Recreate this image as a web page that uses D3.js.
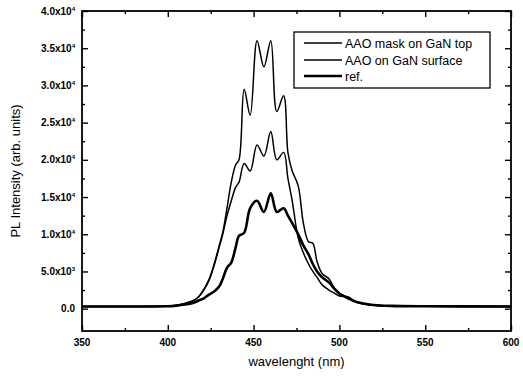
<!DOCTYPE html>
<html>
<head>
<meta charset="utf-8">
<script src="https://cdn.jsdelivr.net/npm/d3@7"></script>
<style>
  body { margin: 0; background: #fff; }
  svg { display: block; font-family: "Liberation Sans", Arial, sans-serif; }
</style>
</head>
<body>
<figure id="chart" style="margin:0"></figure>
<script>
// wavelength grid (nm) shared by the three spectra
const wavelength = [350, 380, 400, 405, 410, 415, 418, 421, 424, 427, 430, 432, 434.5, 437, 439.5, 441.5,
  444.5, 448, 452, 456, 460, 463.5, 467.5, 470, 472.5, 476, 479, 482, 484.5, 487, 490, 494, 497, 500,
  505, 510, 515, 520, 530, 550, 600];

const maskTop = [300, 300, 350, 450, 700, 1100, 1600, 2600, 3900, 6000, 8500, 10200, 13500, 17000, 19300, 20000,
  29500, 26000, 36000, 32500, 36000, 26500, 28600, 21000, 18500, 16500, 11500, 9000, 8800, 6300, 4700, 4000, 2800, 2100,
  1500, 900, 600, 450, 350, 320, 300];

const onSurface = [300, 300, 350, 450, 700, 1100, 1600, 2500, 3800, 5800, 8300, 10000, 12500, 14500, 16300, 17000,
  19500, 18500, 22000, 20500, 23800, 20000, 21000, 17500, 14500, 9500, 7500, 6000, 5000, 4200, 3200, 2500, 2100, 1700,
  1600, 900, 600, 450, 350, 320, 300];

const ref = [300, 300, 320, 400, 550, 800, 1100, 1400, 1900, 2300, 3000, 4000, 5500, 6200, 8200, 9800,
  10200, 13500, 14500, 13000, 15500, 13000, 13500, 12500, 11500, 10000, 8500, 7300, 6000, 5000, 4200, 3500, 2700, 2000,
  1400, 900, 650, 500, 380, 320, 300];

const seriesNames = ['AAO mask on GaN top', 'AAO on GaN surface', 'ref.'];
const xTicks = [350, 400, 450, 500, 550, 600];
const yTicks = [0, 5000, 10000, 15000, 20000, 25000, 30000, 35000, 40000];

const width = 523, height = 377;
const margin = { left: 82, right: 12, top: 11, bottom: 46 };

const svg = d3.select('figure#chart')
  .append('svg')
  .attr('width', width)
  .attr('height', height);

const x = d3.scaleLinear().domain([350, 600]).range([margin.left, width - margin.right]);
const y = d3.scaleLinear().domain([-3000, 40000]).range([height - margin.bottom, margin.top]);

const x0 = x.range()[0], x1 = x.range()[1], y0 = y.range()[0], y1 = y.range()[1];

// minor + major ticks, all pointing inward
function ticks(axis, values, size) {
  return axis.tickValues(values).tickSize(size).tickFormat('');
}
const xMinor = d3.range(375, 600, 50);
const yMinor = d3.range(2500, 40000, 5000);

svg.append('g').attr('transform', `translate(0,${y0})`).call(ticks(d3.axisBottom(x), xTicks, -6));
svg.append('g').attr('transform', `translate(0,${y0})`).call(ticks(d3.axisBottom(x), xMinor, -3));
svg.append('g').attr('transform', `translate(0,${y1})`).call(ticks(d3.axisTop(x), xTicks, -6));
svg.append('g').attr('transform', `translate(0,${y1})`).call(ticks(d3.axisTop(x), xMinor, -3));
svg.append('g').attr('transform', `translate(${x0},0)`).call(ticks(d3.axisLeft(y), yTicks, -6));
svg.append('g').attr('transform', `translate(${x0},0)`).call(ticks(d3.axisLeft(y), yMinor, -3));
svg.append('g').attr('transform', `translate(${x1},0)`).call(ticks(d3.axisRight(y), yTicks, -6));
svg.append('g').attr('transform', `translate(${x1},0)`).call(ticks(d3.axisRight(y), yMinor, -3));
svg.selectAll('.domain').remove();
svg.selectAll('.tick line').attr('stroke', '#000').attr('stroke-width', 1.4);

// frame
svg.append('rect')
  .attr('x', x0).attr('y', y1)
  .attr('width', x1 - x0).attr('height', y0 - y1)
  .attr('fill', 'none').attr('stroke', '#000').attr('stroke-width', 1.8);

// x tick labels
svg.append('g').selectAll('text')
  .data(xTicks).enter().append('text')
  .attr('x', d => x(d)).attr('y', y0 + 15)
  .attr('text-anchor', 'middle')
  .attr('font-size', 10).attr('font-weight', 'bold')
  .text(d => d);

// y tick labels like 3.5x10^4
const yLab = svg.append('g').selectAll('text')
  .data(yTicks).enter().append('text')
  .attr('x', x0 - 7).attr('y', d => y(d) + 3.5)
  .attr('text-anchor', 'end')
  .attr('font-size', 10).attr('font-weight', 'bold');
yLab.each(function (d) {
  const t = d3.select(this);
  if (d === 0) { t.text('0.0'); return; }
  const e = Math.floor(Math.log10(d));
  const m = (d / Math.pow(10, e)).toFixed(1);
  t.append('tspan').text(m + 'x10');
  t.append('tspan').attr('dy', -4).attr('font-size', 6).text(e);
});

// axis titles
svg.append('text')
  .attr('x', (x0 + x1) / 2).attr('y', 366)
  .attr('text-anchor', 'middle').attr('font-size', 13)
  .text('wavelenght (nm)');
svg.append('text')
  .attr('transform', `translate(20,${(y0 + y1) / 2}) rotate(-90)`)
  .attr('text-anchor', 'middle').attr('font-size', 13)
  .text('PL Intensity (arb. units)');

// spectra
const series = [maskTop, onSurface, ref];
const widths = [1.5, 1.5, 2.6];
const line = d3.line()
  .x((d, i) => x(wavelength[i]))
  .y(d => y(d))
  .curve(d3.curveCatmullRom.alpha(0.5));

svg.append('g').selectAll('path')
  .data(series).enter().append('path')
  .attr('d', d => line(d))
  .attr('fill', 'none')
  .attr('stroke', '#000')
  .attr('stroke-width', (d, i) => widths[i])
  .attr('stroke-linejoin', 'round');

// legend
const lg = svg.append('g');
lg.append('rect')
  .attr('x', 294).attr('y', 32).attr('width', 196).attr('height', 56)
  .attr('fill', '#fff').attr('stroke', '#000').attr('stroke-width', 1.3);
const rows = [43, 60, 76];
seriesNames.forEach((name, i) => {
  lg.append('line')
    .attr('x1', 304).attr('x2', 342).attr('y1', rows[i]).attr('y2', rows[i])
    .attr('stroke', '#000').attr('stroke-width', widths[i]);
  lg.append('text')
    .attr('x', 345).attr('y', rows[i] + 4.5)
    .attr('font-size', 12.5)
    .text(name);
});
</script>
</body>
</html>
